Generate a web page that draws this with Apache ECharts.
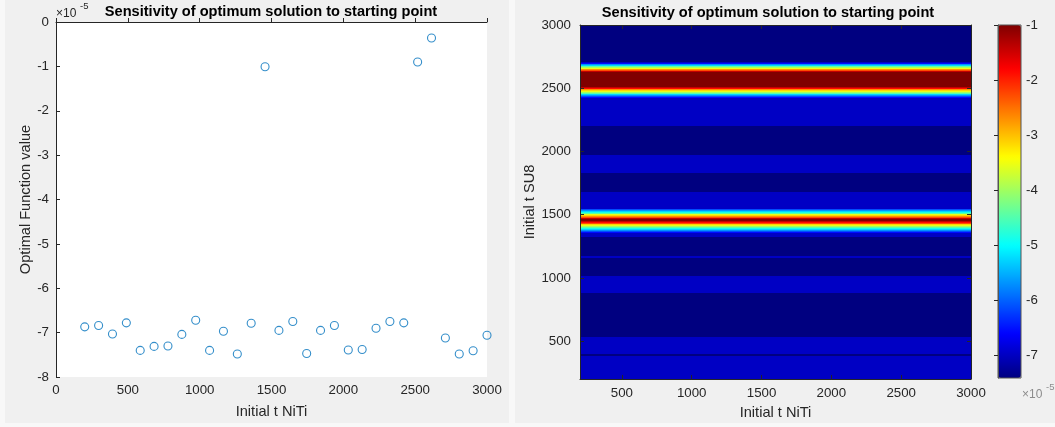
<!DOCTYPE html>
<html>
<head>
<meta charset="utf-8">
<script src="https://cdn.jsdelivr.net/npm/echarts@6/dist/echarts.min.js"></script>
<style>
  html, body { margin: 0; padding: 0; background: #f8f8f8; }
  #wrap { position: relative; width: 1055px; height: 427px; }
  .panel { position: absolute; top: 0; height: 423px; background: #f0f0f0; }
  #chart { position: absolute; left: 0; top: 0; width: 1055px; height: 427px; }
</style>
</head>
<body>
<div id="wrap">
  <div class="panel" style="left:5px;width:504px;"></div>
  <div class="panel" style="left:515px;width:540px;"></div>
  <div id="chart"></div>
</div>
<script>
// Initial thickness grid, shared by the NiTi and SU8 start points
const startGrid = [200, 296.55, 393.10, 489.66, 586.21, 682.76, 779.31, 875.86, 972.41, 1068.97,
  1165.52, 1262.07, 1358.62, 1455.17, 1551.72, 1648.28, 1744.83, 1841.38, 1937.93, 2034.48,
  2131.03, 2227.59, 2324.14, 2420.69, 2517.24, 2613.79, 2710.34, 2806.90, 2903.45, 3000];

// Optimal objective value reached from each start point (units of 1e-5)
const optimalValue = [-6.87, -6.84, -7.03, -6.78, -7.40, -7.31, -7.30, -7.04, -6.72, -7.40,
  -6.97, -7.48, -6.79, -1.01, -6.95, -6.75, -7.47, -6.95, -6.84, -7.39,
  -7.38, -6.90, -6.75, -6.78, -0.90, -0.36, -7.12, -7.48, -7.41, -7.06];

// Tick labels
const nitiTicks = [0, 500, 1000, 1500, 2000, 2500, 3000];
const valueTicks = [-8, -7, -6, -5, -4, -3, -2, -1, 0];
const heatTicks = [500, 1000, 1500, 2000, 2500, 3000];
const colorTicks = [-7, -6, -5, -4, -3, -2, -1];

// Colour scale: jet colormap, quantised into a fixed number of levels
const colorRange = [-7.42, -1];
const colorLevels = 16;
const jetStops = ['#000080', '#0000ff', '#0080ff', '#00ffff', '#80ff80', '#ffff00', '#ff8000', '#ff0000', '#800000'];

const FONT = '"Liberation Sans", Arial, Helvetica, sans-serif';
const AX = '#262626';

function hexToRgb(h) {
  return [parseInt(h.slice(1, 3), 16), parseInt(h.slice(3, 5), 16), parseInt(h.slice(5, 7), 16)];
}
const jetRgb = jetStops.map(hexToRgb);
function jetColor(t) {
  t = Math.max(0, Math.min(1, t));
  const seg = t * (jetRgb.length - 1);
  const i = Math.min(jetRgb.length - 2, Math.floor(seg));
  const f = seg - i;
  const a = jetRgb[i], b = jetRgb[i + 1];
  const c = a.map((v, k) => Math.round(v + (b[k] - v) * f));
  return 'rgb(' + c.join(',') + ')';
}
const levelWidth = (colorRange[1] - colorRange[0]) / colorLevels;
function levelColor(v) {
  let k = Math.floor((v - colorRange[0]) / levelWidth);
  k = Math.max(0, Math.min(colorLevels - 1, k));
  return jetColor(k / (colorLevels - 1));
}

// Scatter points: optimum value against NiTi start
const scatterData = startGrid.map((x, i) => [x, optimalValue[i]]);

// Heat map rows: value depends on the SU8 start only; each band spans
// two neighbouring grid rows and is shaded by interpolating between them
const x0 = startGrid[0], x1 = startGrid[startGrid.length - 1];
const heatRows = startGrid.slice(0, -1).map((y, i) =>
  [x0, x1, y, startGrid[i + 1], optimalValue[i], optimalValue[i + 1]]);

function renderBand(params, api) {
  const xa = api.value(0), xb = api.value(1);
  const yLo = api.value(2), yHi = api.value(3);
  const zLo = api.value(4), zHi = api.value(5);
  const pTop = api.coord([xa, yHi]);
  const pBot = api.coord([xb, yLo]);
  const top = Math.round(pTop[1]), bottom = Math.round(pBot[1]);
  const offs = [0, 1];
  if (zLo !== zHi) {
    for (let k = 1; k < colorLevels; k++) {
      const th = colorRange[0] + k * levelWidth;
      const s = (th - zHi) / (zLo - zHi);
      if (s > 0 && s < 1) offs.push(s);
    }
  }
  offs.sort((a, b) => a - b);
  const stops = [];
  for (let j = 0; j < offs.length - 1; j++) {
    const mid = (offs[j] + offs[j + 1]) / 2;
    const c = levelColor(zHi + (zLo - zHi) * mid);
    stops.push({ offset: offs[j], color: c }, { offset: offs[j + 1], color: c });
  }
  return {
    type: 'rect',
    shape: { x: Math.round(pTop[0]), y: top, width: Math.round(pBot[0]) - Math.round(pTop[0]), height: bottom - top },
    style: { fill: { type: 'linear', x: 0, y: 0, x2: 0, y2: 1, colorStops: stops }, stroke: null }
  };
}

const plain = v => String(v);
const tickLabel = { color: AX, fontSize: 13.3, fontFamily: FONT, formatter: plain };
const nameStyle = { color: AX, fontSize: 14.6, fontFamily: FONT };

const chart = echarts.init(document.getElementById('chart'), null, { renderer: 'canvas' });
chart.setOption({
  animation: false,
  backgroundColor: 'transparent',
  grid: [
    { left: 56, top: 22, width: 431, height: 355, show: true, backgroundColor: '#ffffff', borderWidth: 0 },
    { left: 580, top: 25, width: 391, height: 354 },
    { left: 998, top: 25, width: 23, height: 353, show: true, backgroundColor: 'transparent', borderColor: '#555', borderWidth: 1, z: 10 }
  ],
  xAxis: [
    {
      gridIndex: 0, type: 'value', min: 0, max: 3000, interval: 500,
      axisLine: { show: true, lineStyle: { color: AX, width: 1 } },
      axisTick: { show: true, inside: true, length: 4, lineStyle: { color: AX } },
      axisLabel: Object.assign({ margin: 7, customValues: nitiTicks }, tickLabel),
      splitLine: { show: false },
      name: 'Initial t NiTi', nameLocation: 'middle', nameGap: 27, nameTextStyle: nameStyle
    },
    {
      gridIndex: 1, type: 'value', min: 200, max: 3000, z: 5,
      axisLine: { show: true, lineStyle: { color: AX, width: 1 } },
      axisTick: { show: true, inside: true, length: 4, customValues: heatTicks, lineStyle: { color: AX } },
      axisLabel: Object.assign({ margin: 8, customValues: heatTicks }, tickLabel),
      splitLine: { show: false },
      name: 'Initial t NiTi', nameLocation: 'middle', nameGap: 26, nameTextStyle: nameStyle
    },
    {
      gridIndex: 1, type: 'value', position: 'top', min: 200, max: 3000, z: 5,
      axisLine: { show: true, lineStyle: { color: AX, width: 1 } },
      axisTick: { show: true, inside: true, length: 4, customValues: heatTicks, lineStyle: { color: AX } },
      axisLabel: { show: false },
      splitLine: { show: false }
    },
    { gridIndex: 2, type: 'value', min: 0, max: 1, show: false }
  ],
  yAxis: [
    {
      gridIndex: 0, type: 'value', min: -8, max: 0, interval: 1,
      axisLine: { show: true, lineStyle: { color: AX, width: 1 } },
      axisTick: { show: true, inside: true, length: 4, lineStyle: { color: AX } },
      axisLabel: Object.assign({ margin: 7, customValues: valueTicks }, tickLabel),
      splitLine: { show: false },
      name: 'Optimal Function value', nameLocation: 'middle', nameGap: 23, nameTextStyle: nameStyle
    },
    {
      gridIndex: 1, type: 'value', min: 200, max: 3000, z: 5,
      axisLine: { show: true, lineStyle: { color: AX, width: 1 } },
      axisTick: { show: true, inside: true, length: 4, customValues: heatTicks, lineStyle: { color: AX } },
      axisLabel: Object.assign({ margin: 9, customValues: heatTicks }, tickLabel),
      splitLine: { show: false },
      name: 'Initial t SU8', nameLocation: 'middle', nameGap: 42, nameTextStyle: nameStyle
    },
    {
      gridIndex: 1, type: 'value', position: 'right', min: 200, max: 3000, z: 5,
      axisLine: { show: true, lineStyle: { color: AX, width: 1 } },
      axisTick: { show: true, inside: true, length: 4, customValues: heatTicks, lineStyle: { color: AX } },
      axisLabel: { show: false },
      splitLine: { show: false }
    },
    {
      gridIndex: 2, type: 'value', position: 'right', min: colorRange[0], max: colorRange[1], z: 11,
      axisLine: { show: true, lineStyle: { color: '#555', width: 1 } },
      axisTick: { show: true, inside: true, length: 4, customValues: colorTicks, lineStyle: { color: AX } },
      axisLabel: Object.assign({ margin: 5, customValues: colorTicks }, tickLabel),
      splitLine: { show: false }
    }
  ],
  visualMap: {
    type: 'continuous', seriesIndex: [], min: colorRange[0], max: colorRange[1],
    calculable: false, left: 998, top: 25, itemWidth: 23, itemHeight: 353, padding: 0,
    inRange: { color: jetStops }, textStyle: { color: 'transparent' }
  },
  series: [
    {
      type: 'scatter', xAxisIndex: 0, yAxisIndex: 0, data: scatterData,
      symbol: 'circle', symbolSize: 8,
      itemStyle: { color: 'rgba(0,0,0,0)', borderColor: '#0072BD', borderWidth: 1.1 }
    },
    {
      type: 'custom', xAxisIndex: 1, yAxisIndex: 1, data: heatRows, clip: true,
      encode: { x: [0, 1], y: [2, 3] }, renderItem: renderBand
    }
  ],
  graphic: [
    { type: 'text', x: 271, y: 12, style: { text: 'Sensitivity of optimum solution to starting point', fill: '#000', font: 'bold 14.6px ' + FONT, align: 'center', verticalAlign: 'middle' } },
    { type: 'text', x: 768, y: 13, style: { text: 'Sensitivity of optimum solution to starting point', fill: '#000', font: 'bold 14.6px ' + FONT, align: 'center', verticalAlign: 'middle' } },
    { type: 'text', x: 56, y: 14, style: { text: '×10', fill: AX, font: '12px ' + FONT, align: 'left', verticalAlign: 'middle' } },
    { type: 'text', x: 80, y: 6, style: { text: '-5', fill: AX, font: '9.5px ' + FONT, align: 'left', verticalAlign: 'middle' } },
    { type: 'text', x: 1022, y: 395, style: { text: '×10', fill: '#8c8c8c', font: '12px ' + FONT, align: 'left', verticalAlign: 'middle' } },
    { type: 'text', x: 1046, y: 387, style: { text: '-5', fill: '#8c8c8c', font: '9.5px ' + FONT, align: 'left', verticalAlign: 'middle' } }
  ]
});
</script>
</body>
</html>
